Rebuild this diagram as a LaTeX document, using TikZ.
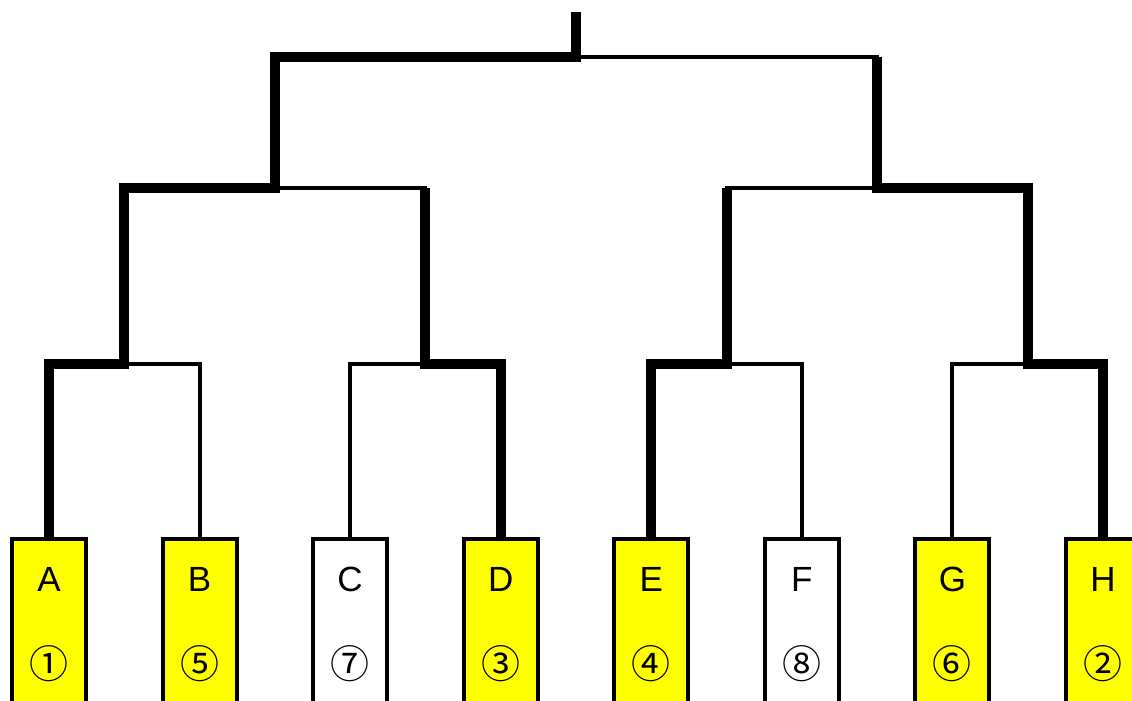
\documentclass[tikz,border=0pt]{standalone}
\usepackage{fontspec}
\newfontfamily\jp{Noto Sans CJK JP}
\newfontfamily\lat{Liberation Sans}
\definecolor{boxyellow}{RGB}{255,255,0}
\begin{document}
\begin{tikzpicture}[x=1pt,y=-1pt,
  lose/.style={line width=4pt, line join=miter},
  win/.style={line width=10pt, line join=miter, line cap=butt},
  box/.style={draw, line width=4pt, minimum width=74pt, minimum height=190pt, inner sep=0pt, anchor=north},
  letter/.style={font=\lat\fontsize{35}{35}\selectfont, inner sep=0pt},
  rank/.style={font=\jp\fontsize{39}{39}\selectfont, inner sep=0pt}]
\clip (0,0) rectangle (1132,701);
\fill[white] (0,0) rectangle (1132,701);
% boxes (nodes first, for names)
\foreach \n/\x/\c in {A/49/boxyellow, B/199.6/boxyellow, C/350.1/white, D/500.7/boxyellow,
                     E/651.3/boxyellow, F/801.9/white, G/952.4/boxyellow, H/1103/boxyellow}{
  \node[box, fill=\c] (b\n) at (\x,537) {};
}
\coordinate (j1) at (124.3,364);
\coordinate (j2) at (425.4,364);
\coordinate (j3) at (726.6,364);
\coordinate (j4) at (1027.7,364);
\coordinate (k1) at (274.9,188);
\coordinate (k2) at (877.2,188);
\coordinate (m)  at (576,57);
\coordinate (top) at (576,12);
% thin bracket
\draw[lose] (bA.north) -- (bA.north |- j1) -- (bB.north |- j1) -- (bB.north);
\draw[lose] (bC.north) -- (bC.north |- j2) -- (bD.north |- j2) -- (bD.north);
\draw[lose] (bE.north) -- (bE.north |- j3) -- (bF.north |- j3) -- (bF.north);
\draw[lose] (bG.north) -- (bG.north |- j4) -- (bH.north |- j4) -- (bH.north);
\draw[lose] (j1) -- (j1 |- k1) -- (j2 |- k1) -- (j2);
\draw[lose] (j3) -- (j3 |- k2) -- (j4 |- k2) -- (j4);
\draw[lose] (k1) -- (k1 |- m) -- (k2 |- m) -- (k2);
% winners
\draw[win] (bA.north) -- (bA.north |- j1) -- (j1) -- (j1 |- k1) -- (k1) -- (k1 |- m) -- (m) -- (top);
\draw[win] (bD.north) -- (bD.north |- j2) -- (j2) -- (j2 |- k1);
\draw[win] (bE.north) -- (bE.north |- j3) -- (j3) -- (j3 |- k2);
\draw[win] (bH.north) -- (bH.north |- j4) -- (j4) -- (j4 |- k2) -- (k2) -- (k2 |- m);
% boxes redrawn on top
\foreach \n/\x/\c/\r in {A/49/boxyellow/①, B/199.6/boxyellow/⑤, C/350.1/white/⑦, D/500.7/boxyellow/③,
                     E/651.3/boxyellow/④, F/801.9/white/⑧, G/952.4/boxyellow/⑥, H/1103/boxyellow/②}{
  \node[box, fill=\c] (c\n) at (\x,537) {};
  \node[letter] (t\n) at (\x,579.5) {\n};
  \node[rank] (r\n) at (\x,664) {\r};
}
\end{tikzpicture}
\end{document}
